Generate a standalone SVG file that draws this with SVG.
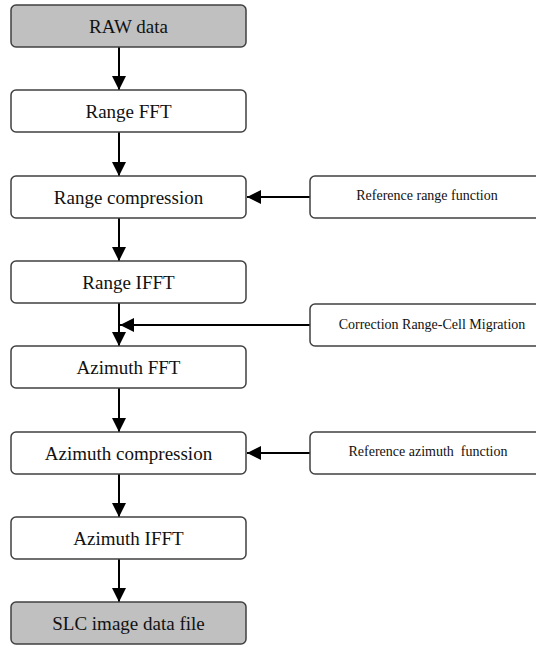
<svg xmlns="http://www.w3.org/2000/svg" width="536" height="645" viewBox="0 0 536 645">
<defs>
<style>
.box{fill:#ffffff;stroke:#404040;stroke-width:1.5}
.gray{fill:#c0c0c0}
.t{font-family:'Liberation Serif',serif;font-size:19px;fill:#111;text-anchor:middle}
.s{font-family:'Liberation Serif',serif;font-size:14px;fill:#111;text-anchor:middle}
.c{stroke:#000;stroke-width:2;fill:none;marker-end:url(#ah)}
</style>
<marker id="ah" markerUnits="userSpaceOnUse" markerWidth="14" markerHeight="14" viewBox="0 0 14 14" refX="14" refY="7" orient="auto">
<path d="M0,0 L14,7 L0,14 Z" fill="#000"/>
</marker>
</defs>
<rect width="536" height="645" fill="#ffffff"/>
<g id="connectors">
<line class="c" x1="119" y1="47" x2="119" y2="90"/>
<line class="c" x1="119" y1="132" x2="119" y2="176"/>
<line class="c" x1="119" y1="218" x2="119" y2="261"/>
<line class="c" x1="119" y1="303" x2="119" y2="346"/>
<line class="c" x1="119" y1="388" x2="119" y2="432"/>
<line class="c" x1="119" y1="474" x2="119" y2="517"/>
<line class="c" x1="119" y1="559" x2="119" y2="602"/>
<line class="c" x1="310" y1="197" x2="247" y2="197"/>
<line class="c" x1="310" y1="325" x2="120" y2="325"/>
<line class="c" x1="310" y1="453" x2="247" y2="453"/>
</g>
<g id="raw"><rect class="box gray" x="11" y="5" width="235" height="42" rx="5"/><text class="t" x="128.5" y="33" font-family="Liberation Serif">RAW data</text></g>
<g id="rfft"><rect class="box" x="11" y="90" width="235" height="42" rx="5"/><text class="t" x="128.5" y="118" font-family="Liberation Serif">Range FFT</text></g>
<g id="rcomp"><rect class="box" x="11" y="176" width="235" height="42" rx="5"/><text class="t" x="128.5" y="204" font-family="Liberation Serif">Range compression</text></g>
<g id="rifft"><rect class="box" x="11" y="261" width="235" height="42" rx="5"/><text class="t" x="128.5" y="289" font-family="Liberation Serif">Range IFFT</text></g>
<g id="afft"><rect class="box" x="11" y="346" width="235" height="42" rx="5"/><text class="t" x="128.5" y="374" font-family="Liberation Serif">Azimuth FFT</text></g>
<g id="acomp"><rect class="box" x="11" y="432" width="235" height="42" rx="5"/><text class="t" x="128.5" y="460" font-family="Liberation Serif">Azimuth compression</text></g>
<g id="aifft"><rect class="box" x="11" y="517" width="235" height="42" rx="5"/><text class="t" x="128.5" y="545" font-family="Liberation Serif">Azimuth IFFT</text></g>
<g id="slc"><rect class="box gray" x="11" y="602" width="235" height="42" rx="5"/><text class="t" x="128.5" y="630" font-family="Liberation Serif">SLC image data file</text></g>
<g id="refrange"><rect class="box" x="310" y="176" width="236" height="42" rx="5"/><text class="s" x="427" y="200" font-family="Liberation Serif">Reference range function</text></g>
<g id="rcm"><rect class="box" x="310" y="304" width="236" height="42" rx="5"/><text class="s" x="432" y="329" font-family="Liberation Serif">Correction Range-Cell Migration</text></g>
<g id="refaz"><rect class="box" x="310" y="432" width="236" height="42" rx="5"/><text class="s" x="428" y="456" font-family="Liberation Serif" xml:space="preserve">Reference azimuth  function</text></g>
</svg>
